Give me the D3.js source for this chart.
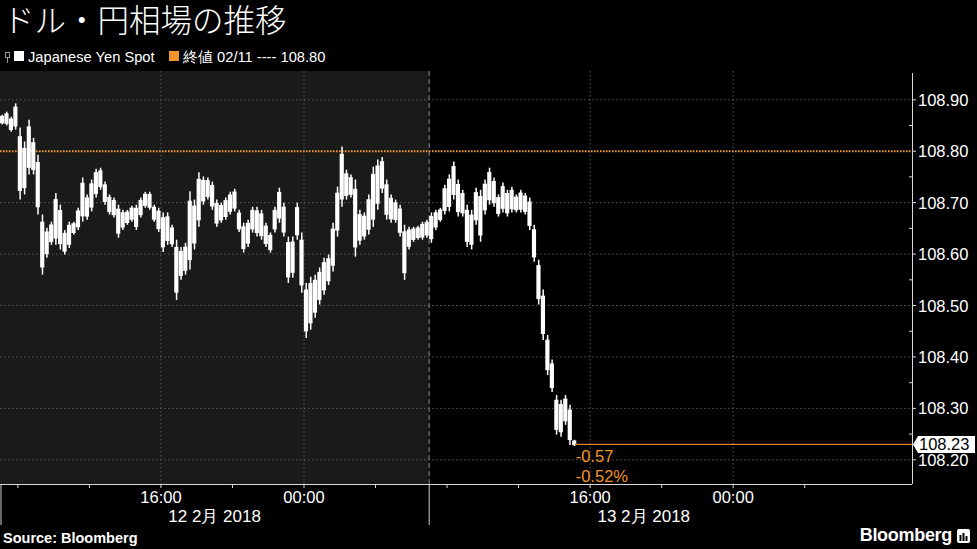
<!DOCTYPE html>
<html><head><meta charset="utf-8">
<script src="https://cdn.jsdelivr.net/npm/d3@7"></script>
<style>
html,body{margin:0;padding:0;background:#000;}
svg{display:block;}
text{font-family:"Liberation Sans",Arial,sans-serif;}
</style></head>
<body>
<svg id="chart" width="977" height="549"></svg>
<script>
// ---- data ----
const title = "ドル・円相場の推移";
const seriesName = "Japanese Yen Spot";
const refLabel = "終値 02/11 ---- 108.80";
const refValue = 108.80;
const lastValue = 108.23;
const changeLabels = ["-0.57", "-0.52%"];
const firstBar = "2018-02-12T07:00:00Z";   // 15-minute bars
const barMinutes = 15;
const highs = [
108.871,108.877,108.867,108.893,108.846,108.819,108.861,108.826,108.793,108.677,
108.651,108.663,108.719,108.696,108.647,108.663,108.663,108.690,108.749,108.716,
108.745,108.766,108.768,108.741,108.716,108.710,108.696,108.686,108.686,108.694,
108.696,108.710,108.721,108.721,108.696,108.690,108.681,108.681,108.657,108.628,
108.614,108.622,108.722,108.706,108.759,108.751,108.749,108.741,108.706,108.700,
108.710,108.721,108.727,108.686,108.661,108.667,108.692,108.692,108.686,108.661,
108.642,108.692,108.729,108.700,108.634,108.634,108.700,108.642,108.544,108.556,
108.560,108.574,108.593,108.599,108.661,108.731,108.809,108.764,108.755,108.745,
108.686,108.681,108.716,108.770,108.784,108.789,108.745,108.716,108.706,108.696,
108.657,108.653,108.653,108.655,108.663,108.667,108.681,108.686,108.690,108.735,
108.755,108.780,108.745,108.725,108.696,108.686,108.729,108.725,108.745,108.768,
108.749,108.716,108.739,108.725,108.731,108.716,108.725,108.719,108.710,108.657,
108.589,108.531,108.443,108.395,108.326,108.317,108.326,108.307,108.239];
const lows = [
108.852,108.850,108.838,108.842,108.706,108.716,108.755,108.755,108.677,108.560,
108.593,108.618,108.618,108.609,108.599,108.612,108.638,108.647,108.663,108.667,
108.683,108.710,108.725,108.696,108.677,108.671,108.632,108.647,108.657,108.663,
108.647,108.671,108.690,108.686,108.663,108.643,108.604,108.618,108.614,108.511,
108.550,108.560,108.570,108.609,108.653,108.696,108.706,108.686,108.653,108.661,
108.667,108.677,108.683,108.643,108.603,108.614,108.642,108.634,108.628,108.614,
108.603,108.642,108.661,108.634,108.544,108.554,108.628,108.525,108.437,108.453,
108.476,108.502,108.521,108.540,108.566,108.634,108.692,108.706,108.710,108.595,
108.618,108.628,108.638,108.653,108.686,108.719,108.667,108.661,108.661,108.634,
108.550,108.609,108.624,108.628,108.628,108.632,108.622,108.647,108.663,108.677,
108.683,108.706,108.673,108.673,108.614,108.609,108.657,108.624,108.677,108.696,
108.692,108.673,108.681,108.673,108.681,108.681,108.681,108.677,108.647,108.585,
108.502,108.433,108.365,108.332,108.249,108.245,108.268,108.229,108.227];
const yTicks = [108.20,108.30,108.40,108.50,108.60,108.70,108.80,108.90];
const yMinorTicks = [108.25,108.35,108.45,108.55,108.65,108.75,108.85];
const xLabelTicks = ["2018-02-12T16:00:00Z","2018-02-13T00:00:00Z","2018-02-13T16:00:00Z","2018-02-14T00:00:00Z"];
const xMinorTicks = ["2018-02-12T08:00:00Z","2018-02-12T12:00:00Z","2018-02-12T20:00:00Z","2018-02-13T04:00:00Z",
                     "2018-02-13T08:00:00Z","2018-02-13T12:00:00Z","2018-02-13T20:00:00Z","2018-02-14T04:00:00Z"];
const dayStarts = ["2018-02-12T07:00:00Z","2018-02-13T07:00:00Z","2018-02-14T07:00:00Z"];
const dayLabels = ["12 2月 2018","13 2月 2018"];
const xDomain = ["2018-02-12T07:00:00Z","2018-02-14T10:00:00Z"];
const yDomain = [108.153, 108.956];

// ---- layout ----
const svg = d3.select("#chart");
const W = 977, H = 549;
const plot = {left:0, right:912, top:71, bottom:484};
const ORANGE = "#f0952a";
const parse = s => new Date(s);

const x = d3.scaleUtc().domain(xDomain.map(parse)).range([plot.left, plot.right]);
const y = d3.scaleLinear().domain(yDomain).range([plot.bottom, plot.top]);

svg.append("rect").attr("width",W).attr("height",H).attr("fill","#000");

// shaded previous-day panel
svg.append("rect")
  .attr("x", x(parse(dayStarts[0]))).attr("y", plot.top)
  .attr("width", x(parse(dayStarts[1])) - x(parse(dayStarts[0])))
  .attr("height", plot.bottom - plot.top)
  .attr("fill", "#1a1a1a");

// horizontal grid
svg.append("g").selectAll("line").data(yTicks).join("line")
  .attr("x1", plot.left).attr("x2", plot.right)
  .attr("y1", d => y(d)).attr("y2", d => y(d))
  .attr("stroke", "#5a5a5a").attr("stroke-width", 1).attr("stroke-dasharray", "1.5,2.5");

// vertical grid
svg.append("g").selectAll("line").data(xLabelTicks).join("line")
  .attr("x1", d => x(parse(d))).attr("x2", d => x(parse(d)))
  .attr("y1", plot.top).attr("y2", plot.bottom)
  .attr("stroke", "#5a5a5a").attr("stroke-width", 1).attr("stroke-dasharray", "1.5,2.5");

// day separator (dashed inside plot, solid below axis)
const sepX = x(parse(dayStarts[1]));
svg.append("line").attr("x1", sepX).attr("x2", sepX).attr("y1", plot.top).attr("y2", plot.bottom)
  .attr("stroke", "#8a8a8a").attr("stroke-width", 1).attr("stroke-dasharray", "5,3");
[dayStarts[0], dayStarts[1]].forEach(d => {
  const xx = Math.max(x(parse(d)), 1);
  svg.append("line").attr("x1", xx).attr("x2", xx).attr("y1", plot.bottom).attr("y2", 525)
    .attr("stroke", "#cfcfcf").attr("stroke-width", 1);
});

// reference close line 108.80
svg.append("line")
  .attr("x1", plot.left).attr("x2", plot.right)
  .attr("y1", y(refValue)).attr("y2", y(refValue))
  .attr("stroke", ORANGE).attr("stroke-width", 2).attr("stroke-dasharray", "1.5,1.5");

// bars
const t0 = parse(firstBar).getTime();
const bars = highs.map((h, i) => ({
  t: new Date(t0 + i * barMinutes * 60000),
  t1: new Date(t0 + (i + 1) * barMinutes * 60000),
  hi: h, lo: lows[i]
}));
const barG = svg.append("g");
// wicks
barG.selectAll("line").data(bars).join("line")
  .attr("x1", d => (x(d.t) + x(d.t1)) / 2).attr("x2", d => (x(d.t) + x(d.t1)) / 2)
  .attr("y1", d => y(d.hi)).attr("y2", d => y(d.lo))
  .attr("stroke", "#ffffff").attr("stroke-width", 1.5);
// bodies
barG.selectAll("rect").data(bars).join("rect")
  .attr("x", d => x(d.t) - 0.1)
  .attr("width", d => (x(d.t1) - x(d.t)) - 0.3)
  .attr("y", d => y(d.hi) + (y(d.lo) - y(d.hi)) * 0.12)
  .attr("height", d => Math.max(1.5, (y(d.lo) - y(d.hi)) * 0.76))
  .attr("fill", "#ffffff");

// last value line
const lastBar = bars[bars.length - 1];
svg.append("line")
  .attr("x1", x(lastBar.t1) - 2).attr("x2", plot.right)
  .attr("y1", y(lastValue)).attr("y2", y(lastValue))
  .attr("stroke", "#d9822b").attr("stroke-width", 1.2);
changeLabels.forEach((s, i) => {
  svg.append("text").attr("x", x(lastBar.t1) - 1).attr("y", 462 + i * 20)
    .attr("fill", ORANGE).attr("font-size", 16.5).text(s);
});

// right axis
svg.append("line").attr("x1", plot.right + 0.5).attr("x2", plot.right + 0.5)
  .attr("y1", 73).attr("y2", plot.bottom).attr("stroke", "#d8d8d8").attr("stroke-width", 1);
svg.append("g").selectAll("line").data(yTicks).join("line")
  .attr("x1", plot.right).attr("x2", plot.right + 4)
  .attr("y1", d => y(d)).attr("y2", d => y(d)).attr("stroke", "#d8d8d8");
svg.append("g").selectAll("line").data(yMinorTicks).join("line")
  .attr("x1", plot.right - 3).attr("x2", plot.right)
  .attr("y1", d => y(d)).attr("y2", d => y(d)).attr("stroke", "#d8d8d8");
svg.append("g").selectAll("text").data(yTicks).join("text")
  .attr("x", plot.right + 6).attr("y", d => y(d) + 6)
  .attr("fill", "#ffffff").attr("font-size", 16.5)
  .text(d => d3.format(".2f")(d));

// last value tag
const ly = y(lastValue);
svg.append("path")
  .attr("d", `M${plot.right+1},${ly} L${plot.right+6},${ly-8.5} L975,${ly-8.5} L975,${ly+8.5} L${plot.right+6},${ly+8.5} Z`)
  .attr("fill", "#ffffff");
svg.append("text").attr("x", plot.right + 7).attr("y", ly + 6)
  .attr("fill", "#000").attr("font-size", 16.5).text(d3.format(".2f")(lastValue));

// bottom axis
svg.append("line").attr("x1", plot.left).attr("x2", plot.right)
  .attr("y1", plot.bottom + 0.5).attr("y2", plot.bottom + 0.5).attr("stroke", "#d8d8d8");
svg.append("g").selectAll("line").data(xMinorTicks.concat(xLabelTicks)).join("line")
  .attr("x1", d => x(parse(d))).attr("x2", d => x(parse(d)))
  .attr("y1", plot.bottom).attr("y2", plot.bottom + 4).attr("stroke", "#d8d8d8");
svg.append("g").selectAll("text").data(xLabelTicks).join("text")
  .attr("x", d => x(parse(d))).attr("y", 503)
  .attr("text-anchor", "middle").attr("fill", "#ffffff").attr("font-size", 16.5)
  .text(d => d3.utcFormat("%H:%M")(parse(d)));
dayLabels.forEach((s, i) => {
  const cx = (x(parse(dayStarts[i])) + x(parse(dayStarts[i + 1]))) / 2;
  svg.append("text").attr("x", cx).attr("y", 522)
    .attr("text-anchor", "middle").attr("fill", "#ffffff").attr("font-size", 17).text(s);
});

// title
svg.append("text").attr("x", 3).attr("y", 32)
  .attr("fill", "#ffffff").attr("font-size", 31.5)
  .style("font-family", "'Noto Sans CJK JP',sans-serif").style("font-weight", 300)
  .text(title);

// legend
const lg = svg.append("g");
lg.append("rect").attr("x", 5.5).attr("y", 52.5).attr("width", 4).attr("height", 5)
  .attr("fill", "none").attr("stroke", "#999");
lg.append("line").attr("x1", 7.5).attr("x2", 7.5).attr("y1", 57.5).attr("y2", 63).attr("stroke", "#999");
lg.append("rect").attr("x", 14).attr("y", 51).attr("width", 10).attr("height", 10).attr("fill", "#fff");
lg.append("text").attr("x", 28).attr("y", 62).attr("fill", "#fff").attr("font-size", 14.7).text(seriesName);
lg.append("rect").attr("x", 169).attr("y", 51).attr("width", 10).attr("height", 10).attr("fill", ORANGE);
lg.append("text").attr("x", 183).attr("y", 62).attr("fill", "#fff").attr("font-size", 14.7).text(refLabel);

// footer
svg.append("text").attr("x", 3).attr("y", 543).attr("fill", "#fff")
  .attr("font-size", 14.5).attr("font-weight", "bold").text("Source: Bloomberg");
svg.append("text").attr("x", 952).attr("y", 541).attr("text-anchor", "end").attr("fill", "#fff")
  .attr("font-size", 18).attr("font-weight", "bold").attr("letter-spacing", -0.3).text("Bloomberg");
const logo = svg.append("g").attr("transform", "translate(957,529)");
logo.append("rect").attr("width", 13).attr("height", 14).attr("rx", 2).attr("fill", "#fff");
[[3,6,2,6],[6,4,2,8],[9,7,2,5]].forEach(b =>
  logo.append("rect").attr("x", b[0] - 0.5).attr("y", b[1]).attr("width", b[2]).attr("height", b[3]).attr("fill", "#000"));
</script>
</body></html>
